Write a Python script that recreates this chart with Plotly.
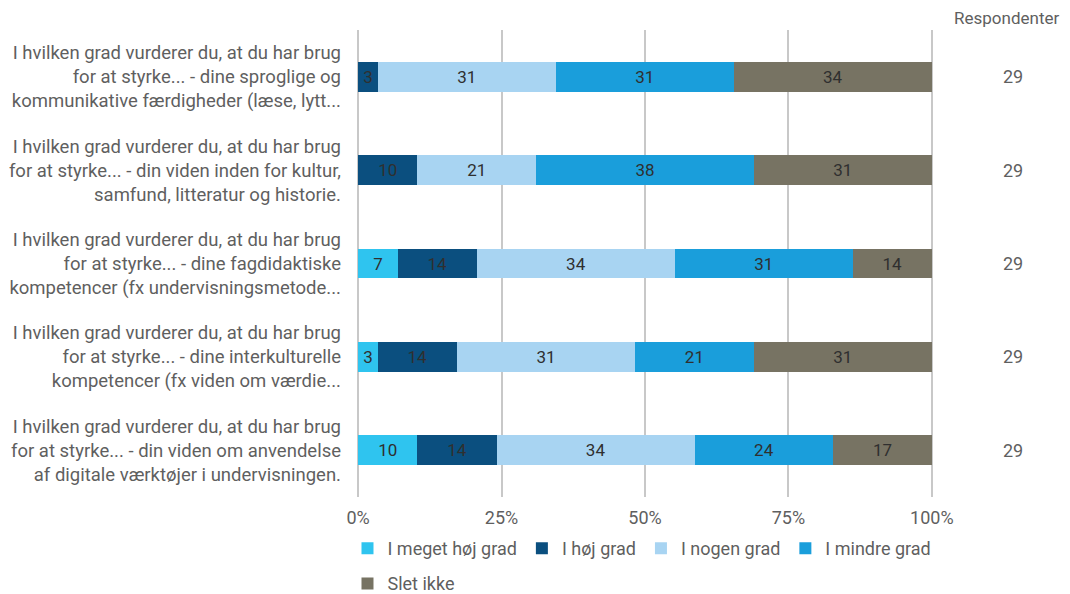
import plotly.graph_objects as go

questions = [
    "I hvilken grad vurderer du, at du har brug<br>for at styrke... - dine sproglige og<br>kommunikative færdigheder (læse, lytt...",
    "I hvilken grad vurderer du, at du har brug<br>for at styrke... - din viden inden for kultur,<br>samfund, litteratur og historie.",
    "I hvilken grad vurderer du, at du har brug<br>for at styrke... - dine fagdidaktiske<br>kompetencer (fx undervisningsmetode...",
    "I hvilken grad vurderer du, at du har brug<br>for at styrke... - dine interkulturelle<br>kompetencer (fx viden om værdie...",
    "I hvilken grad vurderer du, at du har brug<br>for at styrke... - din viden om anvendelse<br>af digitale værktøjer i undervisningen.",
]

categories = ["I meget høj grad", "I høj grad", "I nogen grad", "I mindre grad", "Slet ikke"]
colors = ["#2fc4ef", "#0b4f7f", "#a8d4f2", "#1a9edb", "#777363"]

# percent of respondents per answer, one list per category (rows = questions)
meget_hoej = [0, 0, 6.9, 3.4, 10.3]
hoej = [3.4, 10.3, 13.8, 13.8, 13.8]
nogen = [31.0, 20.7, 34.5, 31.0, 34.5]
mindre = [31.0, 37.9, 31.0, 20.7, 24.1]
slet_ikke = [34.5, 31.0, 13.8, 31.0, 17.2]
series = [meget_hoej, hoej, nogen, mindre, slet_ikke]

respondents = [29, 29, 29, 29, 29]

x_ticks = [0, 25, 50, 75, 100]
x_ticktext = ["0%", "25%", "50%", "75%", "100%"]

TXT = "#5f5f5f"

fig = go.Figure()
for i, (name, vals, col) in enumerate(zip(categories, series, colors)):
    fig.add_trace(go.Bar(
        y=questions, x=vals, name=name, orientation="h",
        marker=dict(color=col, line=dict(width=0)),
        text=[f"{v:.0f}" if v > 0 else "" for v in vals],
        textposition="inside", insidetextanchor="middle",
        textfont=dict(color="#2f2f2f", size=17),
        constraintext="none",
        legend="legend2" if i == 4 else "legend",  # last item on its own row
    ))

# respondents column
for q, n in zip(questions, respondents):
    fig.add_annotation(x=1.139, xref="paper", xanchor="center", y=q, yref="y", text=str(n),
                       showarrow=False, font=dict(size=18, color=TXT))
fig.add_annotation(x=1.128, xref="paper", xanchor="center", y=1.0, yref="paper",
                   yanchor="bottom", yshift=0,
                   text="Respondenter", showarrow=False, font=dict(size=17, color=TXT))

legend_style = dict(orientation="h", xanchor="left", yanchor="top",
                    font=dict(size=18, color=TXT), traceorder="normal",
                    itemwidth=30, bgcolor="rgba(0,0,0,0)")

# page body has an 8px margin, so the figure is 8px smaller than the window
fig.update_layout(
    width=1062, height=586,
    barmode="stack", barnorm="percent", bargap=0.68,
    plot_bgcolor="white", paper_bgcolor="white",
    font=dict(family="Roboto", size=18, color=TXT),
    margin=dict(l=349, r=137, t=22, b=97, autoexpand=False),
    legend=dict(x=-0.0165, y=-0.071, **legend_style),
    legend2=dict(x=-0.0165, y=-0.146, **legend_style),
    showlegend=True,
)
fig.update_xaxes(range=[-0.2, 100.2], tickmode="array", tickvals=x_ticks, ticktext=x_ticktext,
                 showgrid=True, gridcolor="#c8c8c8", gridwidth=2, zeroline=False,
                 ticklabelstandoff=8,
                 tickfont=dict(size=18, color=TXT), fixedrange=True)
fig.update_yaxes(autorange="reversed", showgrid=False, ticks="", ticklabelstandoff=15,
                 tickfont=dict(size=18.5, color=TXT), automargin=False)

fig.write_html("out.html")
